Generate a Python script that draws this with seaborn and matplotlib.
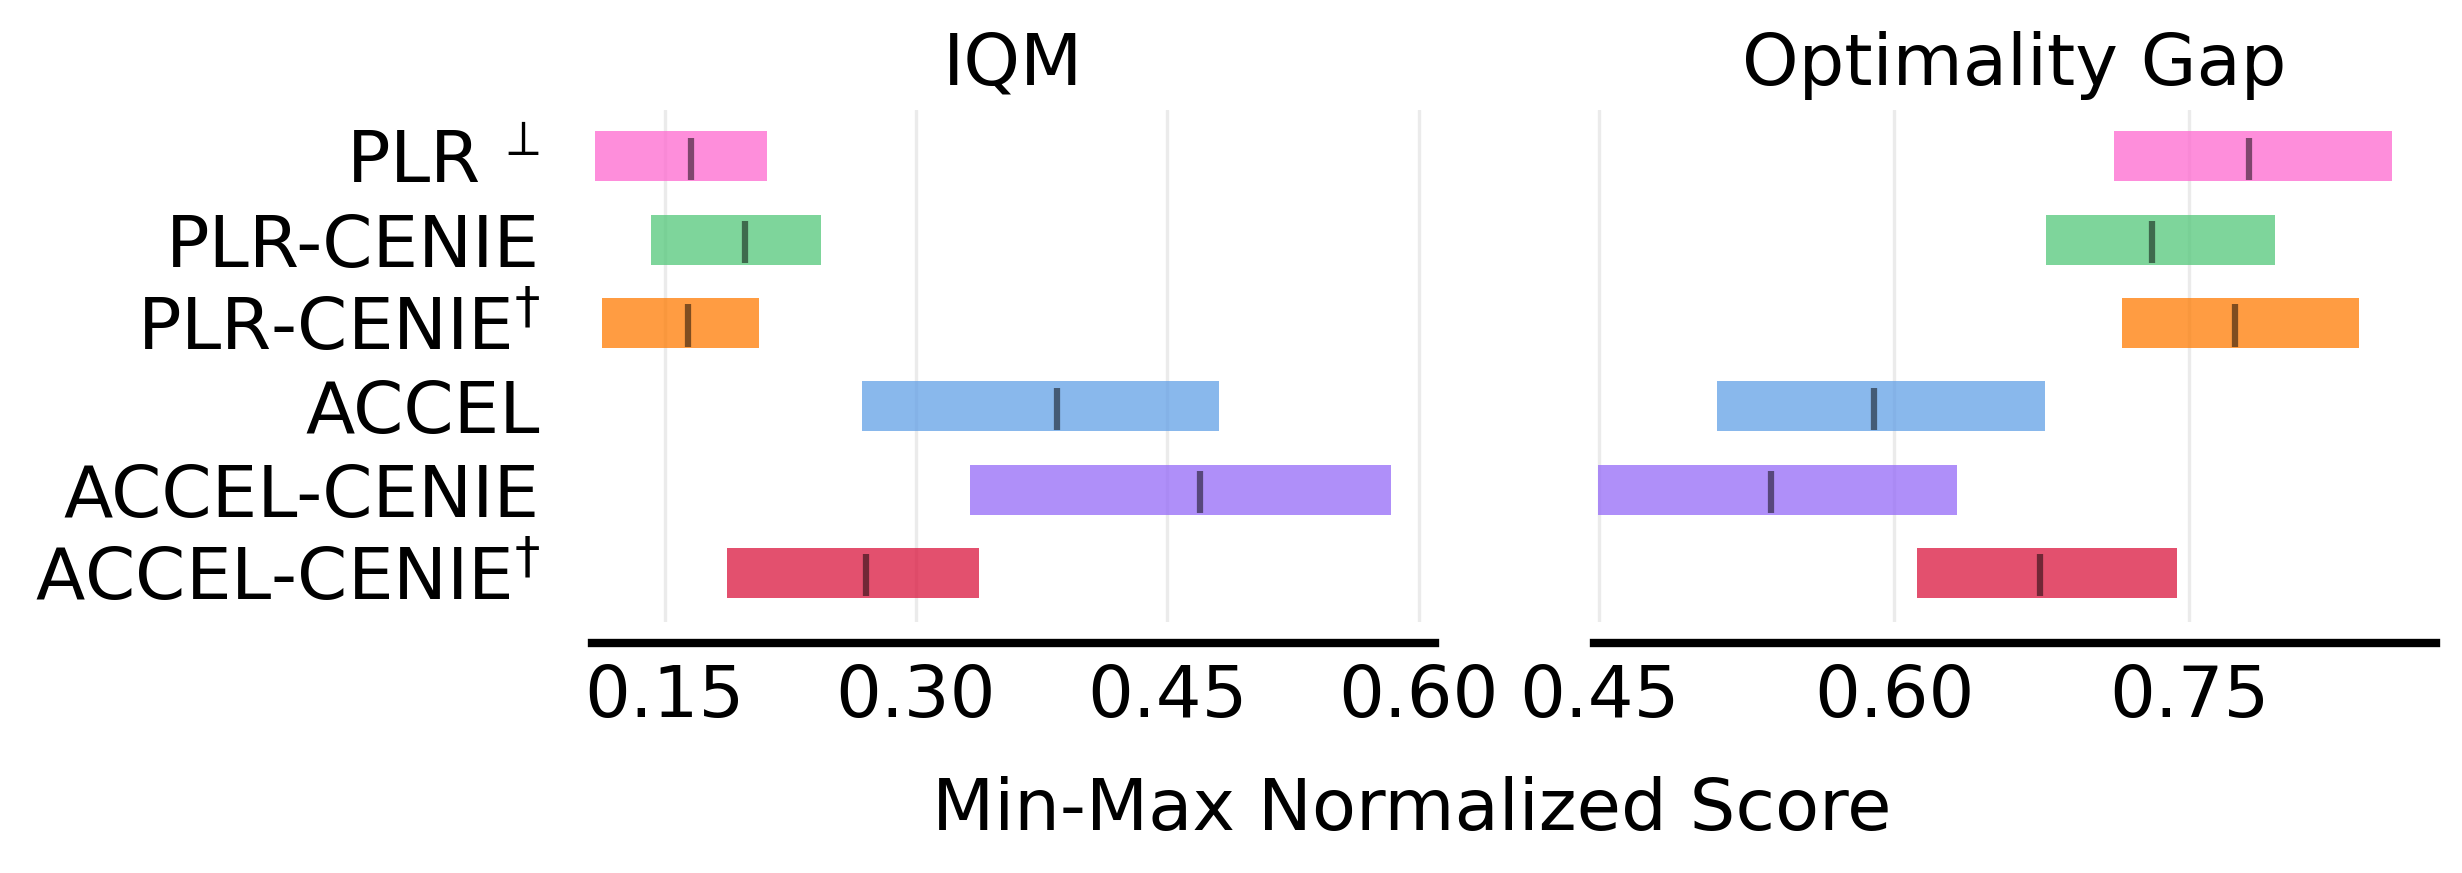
import numpy as np
import matplotlib
matplotlib.use("Agg")
import matplotlib.pyplot as plt
import seaborn as sns

# ---------------- data ----------------
algorithms = ["PLR$\\:{}^{\\perp}$", "PLR-CENIE", "PLR-CENIE$^{\\dagger}$",
              "ACCEL", "ACCEL-CENIE", "ACCEL-CENIE$^{\\dagger}$"]
colors = ["#fe68d0", "#53c77a", "#ff7b03", "#62a0e6", "#946af8", "#da163e"]

iqm_median = [0.1655, 0.1978, 0.1641, 0.3840, 0.4694, 0.2705]
iqm_low    = [0.1087, 0.1420, 0.1129, 0.2677, 0.3324, 0.1870]
iqm_high   = [0.2110, 0.2433, 0.2063, 0.4811, 0.5838, 0.3376]

og_median = [0.7803, 0.7312, 0.7731, 0.5896, 0.5374, 0.6743]
og_low    = [0.7117, 0.6774, 0.7157, 0.5098, 0.4492, 0.6116]
og_high   = [0.8533, 0.7935, 0.8366, 0.6766, 0.6320, 0.7436]

metric_names = ["IQM", "Optimality Gap"]
iqm_ticks = [0.15, 0.30, 0.45, 0.60]
og_ticks = [0.45, 0.60, 0.75]
xlabel = "Min-Max Normalized Score"

# ---------------- style ----------------
sns.set_style("white")
plt.rcParams["font.family"] = ["DejaVu Sans"]
plt.rcParams["mathtext.fontset"] = "dejavusans"
plt.rcParams["text.color"] = "black"
plt.rcParams["xtick.color"] = "black"
plt.rcParams["ytick.color"] = "black"
plt.rcParams["xtick.labelcolor"] = "black"
plt.rcParams["ytick.labelcolor"] = "black"
FS = 17.3

palette = sns.color_palette(colors)

fig = plt.figure(figsize=(2462 / 300, 873 / 300), dpi=300)
bottom, top = 0.2878, 0.874
ax1 = fig.add_axes([592 / 2462, bottom, (1435 - 592) / 2462, top - bottom])
ax2 = fig.add_axes([1593.5 / 2462, bottom, (2436 - 1593.5) / 2462, top - bottom])

panels = [
    (ax1, iqm_median, iqm_low, iqm_high, iqm_ticks, (0.1067, 0.6098)),
    (ax2, og_median, og_low, og_high, og_ticks, (0.4470, 0.8756)),
]

n = len(algorithms)
h = 0.6
ypos = np.arange(n)
for k, (ax, med, lo, hi, ticks, xlim) in enumerate(panels):
    ax.set_axisbelow(True)
    ax.grid(True, axis="x", color="#b0b0b0", alpha=0.25, linewidth=0.8)
    ax.grid(False, axis="y")
    for i in range(n):
        ax.barh(y=ypos[i], width=hi[i] - lo[i], height=h, left=lo[i],
                color=palette[i], alpha=0.75, linewidth=0)
        ax.vlines(x=med[i], ymin=ypos[i] - 6 * h / 16, ymax=ypos[i] + 7.5 * h / 16,
                  color="k", alpha=0.5, linewidth=1.5)
    ax.set_xlim(*xlim)
    ax.set_ylim(5.585, -0.558)
    ax.set_xticks(ticks)
    ax.set_xticklabels([f"{t:.2f}" for t in ticks])
    ax.set_yticks(ypos)
    if k == 0:
        ax.set_yticklabels(algorithms)
    else:
        ax.set_yticklabels([])
    ax.tick_params(axis="y", length=0, pad=12.5, labelsize=FS, labelcolor="black")
    ax.tick_params(axis="x", length=0, pad=5, labelsize=FS, labelcolor="black")
    for s in ["left", "right", "top"]:
        ax.spines[s].set_visible(False)
    ax.spines["bottom"].set_position(("outward", 5))
    ax.spines["bottom"].set_linewidth(2)
    ax.spines["bottom"].set_color("k")
    ax.set_title(metric_names[k], fontsize=FS, pad=6, color="black")

fig.text(1412 / 2462, 1 - 830 / 873, xlabel, ha="center", va="baseline",
         fontsize=FS, color="black")

fig.savefig("out.png", dpi=300)
